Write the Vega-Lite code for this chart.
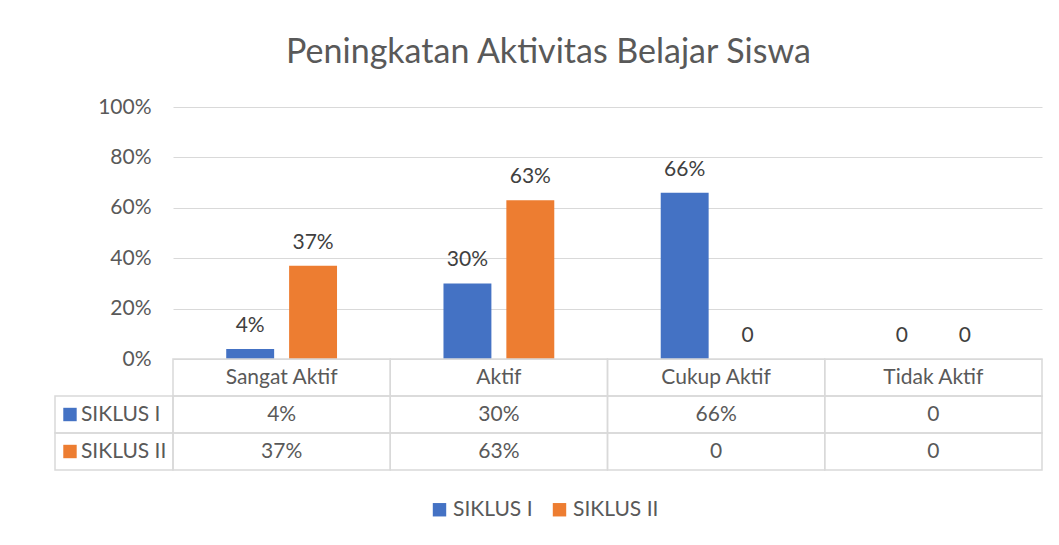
{
  "$schema": "https://vega.github.io/schema/vega-lite/v6.json",
  "background": "white",
  "padding": {"left": 54, "top": 36, "right": 10, "bottom": 10},
  "title": {"text": "Peningkatan Aktivitas Belajar Siswa", "font": "Lato", "fontSize": 34, "fontWeight": "normal", "color": "#595959", "anchor": "middle", "offset": 26},
  "data": {"values": [
    {"category": "Sangat Aktif", "series": "SIKLUS I", "value": 0.04, "label": "4%"},
    {"category": "Sangat Aktif", "series": "SIKLUS II", "value": 0.37, "label": "37%"},
    {"category": "Aktif", "series": "SIKLUS I", "value": 0.30, "label": "30%"},
    {"category": "Aktif", "series": "SIKLUS II", "value": 0.63, "label": "63%"},
    {"category": "Cukup Aktif", "series": "SIKLUS I", "value": 0.66, "label": "66%"},
    {"category": "Cukup Aktif", "series": "SIKLUS II", "value": 0, "label": "0"},
    {"category": "Tidak Aktif", "series": "SIKLUS I", "value": 0, "label": "0"},
    {"category": "Tidak Aktif", "series": "SIKLUS II", "value": 0, "label": "0"}
  ]},
  "columns": 2,
  "spacing": 0,
  "bounds": "flush",
  "concat": [
    {
      "width": 118, "height": 252,
      "data": {"values": []},
      "mark": {"type": "point", "opacity": 0},
      "encoding": {}
    },
    {
      "width": 869, "height": 252,
      "encoding": {
        "x": {"field": "category", "type": "nominal", "sort": ["Sangat Aktif", "Aktif", "Cukup Aktif", "Tidak Aktif"], "scale": {"paddingInner": 0.49, "paddingOuter": 0.245}, "axis": null},
        "xOffset": {"field": "series", "type": "nominal", "scale": {"paddingInner": 0.238}},
        "y": {"field": "value", "type": "quantitative", "scale": {"domain": [0, 1]}, "axis": {"title": null, "format": ".0%", "values": [0, 0.2, 0.4, 0.6, 0.8, 1], "domain": false, "ticks": false, "labelPadding": 22, "labelFont": "Lato", "labelFontSize": 21, "labelColor": "#595959", "gridColor": "#d9d9d9", "gridWidth": 1}}
      },
      "layer": [
        {
          "mark": {"type": "bar"},
          "encoding": {
            "color": {"field": "series", "type": "nominal", "scale": {"domain": ["SIKLUS I", "SIKLUS II"], "range": ["#4472C4", "#ED7D31"]}, "legend": {"title": null, "orient": "none", "legendX": 374, "legendY": 392, "padding": 0, "direction": "horizontal", "symbolType": "square", "symbolSize": 180, "symbolStrokeWidth": 0, "labelFont": "Lato", "labelFontSize": 21, "labelColor": "#595959", "labelOffset": 3, "columnPadding": 16}}
          }
        },
        {
          "mark": {"type": "text", "font": "Lato", "fontSize": 21, "color": "#404040", "baseline": "alphabetic", "dy": -17},
          "encoding": {"text": {"field": "label"}}
        }
      ]
    },
    {
      "width": 118, "height": 111,
      "transform": [{"filter": "datum.category === 'Sangat Aktif'"}],
      "encoding": {
        "y": {"field": "series", "type": "nominal", "scale": {"domain": ["header", "SIKLUS I", "SIKLUS II"], "paddingInner": 0, "paddingOuter": 0}, "axis": null}
      },
      "layer": [
        {
          "mark": {"type": "rect", "fill": null, "stroke": "#d9d9d9", "strokeWidth": 1.5},
          "encoding": {
            "x": {"datum": 0, "type": "quantitative", "scale": {"domain": [0, 1]}, "axis": null},
            "x2": {"datum": 1}
          }
        },
        {
          "mark": {"type": "square", "size": 180, "opacity": 1},
          "encoding": {
            "x": {"datum": 0.127, "type": "quantitative"},
            "color": {"field": "series", "type": "nominal"}
          }
        },
        {
          "mark": {"type": "text", "align": "left", "baseline": "middle", "font": "Lato", "fontSize": 21, "color": "#595959"},
          "encoding": {
            "x": {"datum": 0.22, "type": "quantitative"},
            "text": {"field": "series"}
          }
        }
      ]
    },
    {
      "width": 869, "height": 111,
      "encoding": {
        "x": {"field": "category", "type": "nominal", "sort": ["Sangat Aktif", "Aktif", "Cukup Aktif", "Tidak Aktif"], "scale": {"paddingInner": 0, "paddingOuter": 0}, "axis": null}
      },
      "layer": [
        {
          "mark": {"type": "rect", "fill": null, "stroke": "#d9d9d9", "strokeWidth": 1.5},
          "encoding": {
            "y": {"field": "series", "type": "nominal", "scale": {"domain": ["header", "SIKLUS I", "SIKLUS II"], "paddingInner": 0, "paddingOuter": 0}, "axis": null}
          }
        },
        {
          "transform": [{"filter": "datum.series === 'SIKLUS I'"}],
          "mark": {"type": "rect", "fill": null, "stroke": "#d9d9d9", "strokeWidth": 1.5},
          "encoding": {
            "y": {"datum": "header", "type": "nominal"}
          }
        },
        {
          "transform": [{"filter": "datum.series === 'SIKLUS I'"}],
          "mark": {"type": "text", "baseline": "middle", "font": "Lato", "fontSize": 21, "color": "#595959"},
          "encoding": {
            "y": {"datum": "header", "type": "nominal"},
            "text": {"field": "category"}
          }
        },
        {
          "mark": {"type": "text", "baseline": "middle", "font": "Lato", "fontSize": 21, "color": "#595959"},
          "encoding": {
            "y": {"field": "series", "type": "nominal"},
            "text": {"field": "label"}
          }
        }
      ]
    }
  ],
  "config": {
    "view": {"stroke": null},
    "font": "Lato"
  }
}
